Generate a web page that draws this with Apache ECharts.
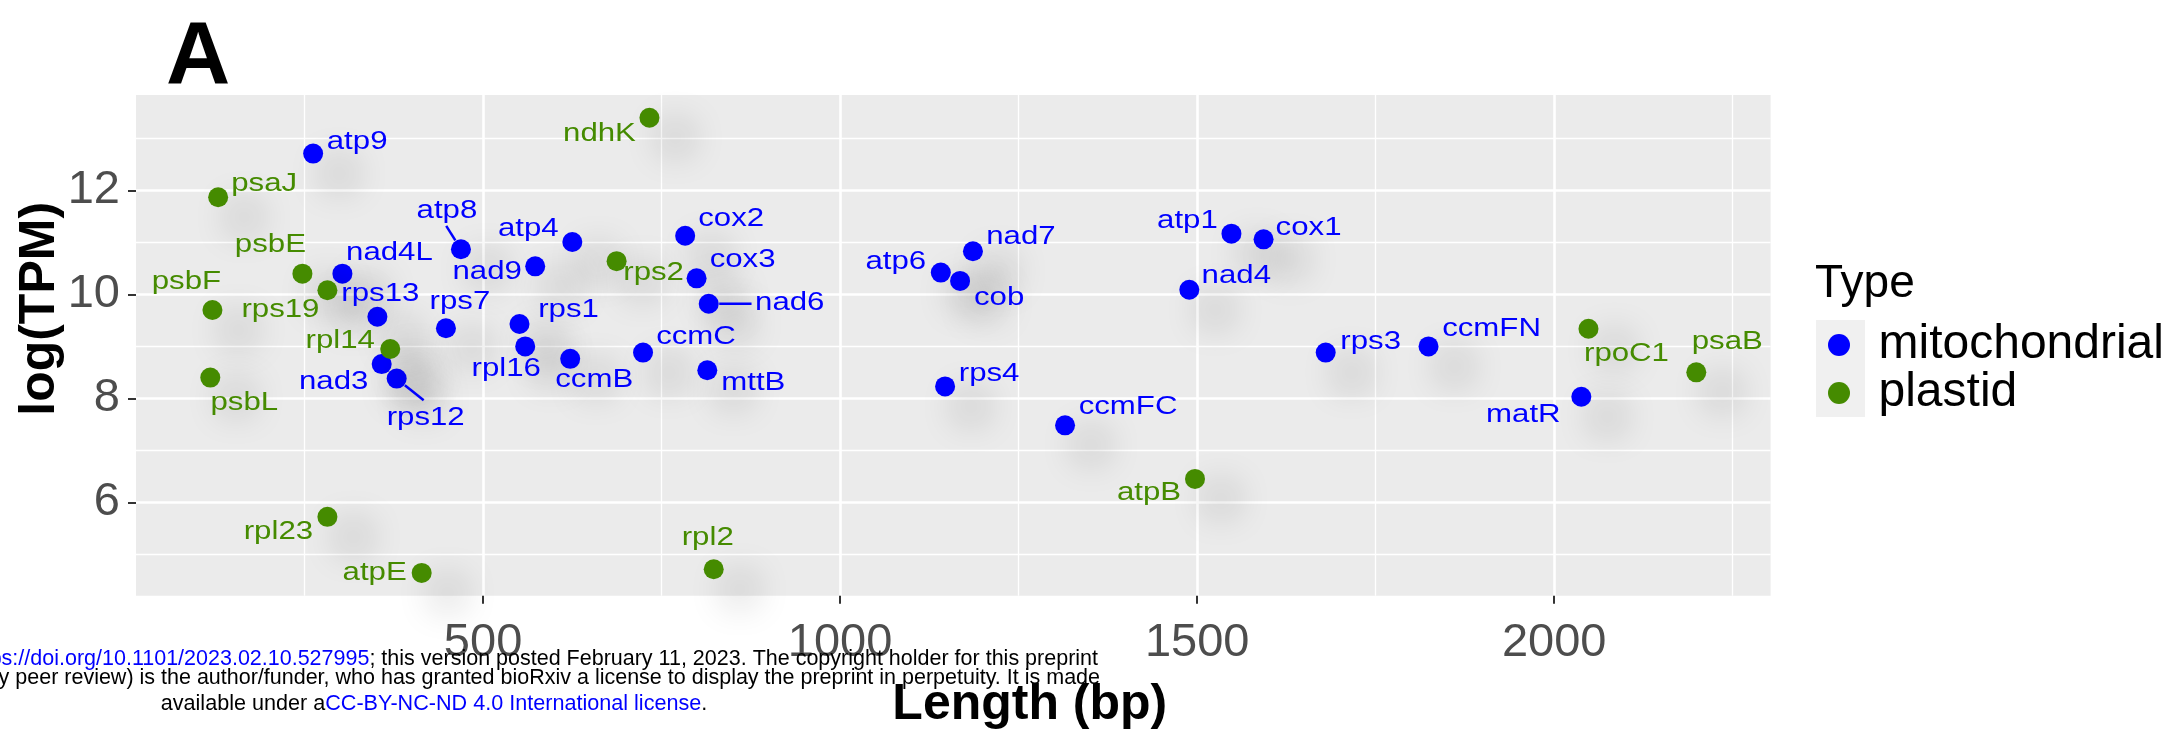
<!DOCTYPE html>
<html>
<head>
<meta charset="utf-8">
<title>Gene length vs. expression</title>
<script src="https://cdn.jsdelivr.net/npm/echarts@6/dist/echarts.min.js"></script>
<style>
  html, body { margin: 0; padding: 0; background: #ffffff; }
  #chart { width: 2184px; height: 736px; }
</style>
</head>
<body>
<div id="chart"></div>
<script>
// Mitochondrial genes: gene length (bp) and log(TPM)
const mitoGenes = ['atp9', 'atp8', 'atp4', 'nad4L', 'nad9', 'rps13', 'rps7', 'rps1', 'rpl16', 'ccmB',
  'ccmC', 'nad3', 'rps12', 'cox2', 'cox3', 'nad6', 'mttB', 'atp6', 'cob', 'nad7',
  'rps4', 'ccmFC', 'atp1', 'cox1', 'nad4', 'rps3', 'ccmFN', 'matR'];
const mitoLength = [262, 469, 625, 303, 573, 352, 448, 551, 559, 622,
  724, 358, 379, 783, 799, 816, 814, 1141, 1168, 1186,
  1147, 1315, 1548, 1593, 1489, 1680, 1824, 2038];
const mitoLogTPM = [12.71, 10.87, 11.01, 10.40, 10.54, 9.57, 9.35, 9.43, 9.00, 8.76,
  8.88, 8.66, 8.38, 11.13, 10.31, 9.82, 8.54, 10.42, 10.26, 10.83,
  8.23, 7.48, 11.17, 11.06, 10.09, 8.88, 9.00, 8.03];

// Plastid genes: gene length (bp) and log(TPM)
const plastidGenes = ['ndhK', 'psaJ', 'psbE', 'rps19', 'psbF', 'rpl14', 'psbL', 'rps2', 'rpl23', 'atpE',
  'rpl2', 'atpB', 'rpoC1', 'psaB'];
const plastidLength = [733, 129, 247, 282, 121, 370, 118, 687, 282, 414,
  823, 1497, 2048, 2199];
const plastidLogTPM = [13.40, 11.87, 10.40, 10.08, 9.70, 8.95, 8.40, 10.64, 5.72, 4.64,
  4.71, 6.45, 9.34, 8.50];

// Axis breaks
const xBreaks = [500, 1000, 1500, 2000];
const xMinorBreaks = [250, 750, 1250, 1750, 2250];
const yBreaks = [6, 8, 10, 12];
const yMinorBreaks = [5, 7, 9, 11, 13];

const typeNames = ['mitochondrial', 'plastid'];

// Colours and fonts
const BLUE = '#0000FF';
const GREEN = '#458B00';
const FONT = '"Liberation Sans", Arial, Helvetica, sans-serif';

// Repelled gene-label placement, pixel nudges from each point
const labelNudge = {
  atp9: [44, -12], atp8: [-14, -38], atp4: [-44, -13], nad4L: [47, -21], nad9: [-48, 5],
  rps13: [3, -23], rps7: [14, -26], rps1: [49, -14], rpl16: [-19, 22], ccmB: [24, 21],
  ccmC: [53, -16], nad3: [-48, 18], rps12: [29, 39], cox2: [46, -17], cox3: [46, -18],
  nad6: [81, -1], mttB: [46, 13], atp6: [-45, -11], cob: [39, 17], nad7: [48, -14],
  rps4: [44, -13], ccmFC: [63, -19], atp1: [-44, -13], cox1: [45, -12], nad4: [47, -14],
  rps3: [45, -11], ccmFN: [63, -18], matR: [-58, 18],
  ndhK: [-50, 16], psaJ: [46, -13], psbE: [-32, -29], rps19: [-47, 20], psbF: [-26, -28],
  rpl14: [-50, -8], psbL: [34, 25], rps2: [37, 12], rpl23: [-49, 15], atpE: [-47, 0],
  rpl2: [-6, -31], atpB: [-46, 14], rpoC1: [38, 25], psaB: [31, -31]
};
// Segment end (pixels from the point) for labels pushed far from their point
const leaderEnd = {
  atp8: [-14.7, -23.3],
  rps12: [27, 21.7],
  nad6: [42.8, 0]
};

// ggplot-style 5% expansion of the data range
function expandRange(values) {
  const lo = Math.min.apply(null, values);
  const hi = Math.max.apply(null, values);
  const pad = (hi - lo) * 0.05;
  return [lo - pad, hi + pad];
}
const xRange = expandRange(mitoLength.concat(plastidLength));
const yRange = expandRange(mitoLogTPM.concat(plastidLogTPM));

function toPoints(lengths, values) {
  return lengths.map(function (len, i) { return [len, values[i]]; });
}

// Gene labels are drawn by one custom series over both groups
const labelPoints = toPoints(mitoLength, mitoLogTPM).concat(toPoints(plastidLength, plastidLogTPM));
const labelNames = mitoGenes.concat(plastidGenes);
const labelColors = mitoGenes.map(function () { return BLUE; })
  .concat(plastidGenes.map(function () { return GREEN; }));

const pointShadow = {
  shadowBlur: 38,
  shadowColor: 'rgba(0, 0, 0, 0.48)',
  shadowOffsetX: 26,
  shadowOffsetY: 20
};

const chart = echarts.init(document.getElementById('chart'), null, { renderer: 'canvas' });

const majorSplit = { show: true, lineStyle: { color: '#FFFFFF', width: 2.6 } };
const minorSplit = { show: true, lineStyle: { color: '#FFFFFF', width: 1.3 } };
const tickStyle = { color: '#333333', width: 2 };
const plainNumber = function (v) { return String(v); };

chart.setOption({
  animation: false,
  backgroundColor: '#FFFFFF',
  title: [
    {
      text: 'A', left: 166, top: 15, padding: 0,
      textStyle: { fontSize: 89, fontWeight: 'bold', color: '#000000', fontFamily: FONT }
    },
    {
      text: 'Type', left: 1815, top: 261, padding: 0,
      textStyle: { fontSize: 46, fontWeight: 'normal', color: '#000000', fontFamily: FONT }
    }
  ],
  legend: {
    data: typeNames,
    orient: 'vertical',
    left: 1828,
    top: 321,
    padding: 0,
    itemGap: 0,
    itemWidth: 49,
    itemHeight: 22,
    icon: 'circle',
    selectedMode: false,
    itemStyle: { shadowBlur: 0, shadowColor: 'rgba(0,0,0,0)', shadowOffsetX: 0, shadowOffsetY: 0 },
    textStyle: {
      fontSize: 48, color: '#000000', fontFamily: FONT,
      lineHeight: 34, padding: [0, 0, 14, 10]
    }
  },
  grid: {
    left: 136, top: 95, right: 413.4, bottom: 140.3,
    show: true, backgroundColor: '#EBEBEB', borderWidth: 0,
    outerBoundsMode: 'none'
  },
  xAxis: [
    {
      type: 'value', min: xRange[0], max: xRange[1], position: 'bottom',
      name: 'Length (bp)', nameLocation: 'middle', nameGap: 85, nameMoveOverlap: false,
      nameTextStyle: { fontSize: 50, fontWeight: 'bold', color: '#000000', fontFamily: FONT, padding: [0, 0, 0, 153] },
      axisLine: { show: false },
      axisTick: { show: true, length: 8, lineStyle: tickStyle, customValues: xBreaks },
      axisLabel: {
        show: true, fontSize: 47, color: '#4D4D4D', fontFamily: FONT, margin: 24,
        customValues: xBreaks, formatter: plainNumber
      },
      splitLine: majorSplit
    },
    {
      type: 'value', min: xRange[0], max: xRange[1], position: 'top',
      axisLine: { show: false },
      axisTick: { show: false, customValues: xMinorBreaks },
      axisLabel: { show: false, customValues: xMinorBreaks },
      splitLine: minorSplit
    }
  ],
  yAxis: [
    {
      type: 'value', min: yRange[0], max: yRange[1], position: 'left',
      name: 'log(TPM)', nameLocation: 'middle', nameGap: 71, nameMoveOverlap: false,
      nameTextStyle: { fontSize: 50, fontWeight: 'bold', color: '#000000', fontFamily: FONT, padding: [0, 0, 0, 73] },
      axisLine: { show: false },
      axisTick: { show: true, length: 8, lineStyle: tickStyle, customValues: yBreaks },
      axisLabel: {
        show: true, fontSize: 47, color: '#4D4D4D', fontFamily: FONT, margin: 16,
        customValues: yBreaks, formatter: plainNumber
      },
      splitLine: majorSplit
    },
    {
      type: 'value', min: yRange[0], max: yRange[1], position: 'right',
      axisLine: { show: false },
      axisTick: { show: false, customValues: yMinorBreaks },
      axisLabel: { show: false, customValues: yMinorBreaks },
      splitLine: minorSplit
    }
  ],
  series: [
    {
      name: typeNames[0], type: 'scatter', xAxisIndex: 0, yAxisIndex: 0,
      data: toPoints(mitoLength, mitoLogTPM),
      symbol: 'circle', symbolSize: 20, z: 3,
      itemStyle: Object.assign({ color: BLUE, opacity: 1 }, pointShadow),
      emphasis: { disabled: true }
    },
    {
      name: typeNames[1], type: 'scatter', xAxisIndex: 0, yAxisIndex: 0,
      data: toPoints(plastidLength, plastidLogTPM),
      symbol: 'circle', symbolSize: 20, z: 3,
      itemStyle: Object.assign({ color: GREEN, opacity: 1 }, pointShadow),
      emphasis: { disabled: true }
    },
    {
      name: 'gene labels', type: 'custom', xAxisIndex: 0, yAxisIndex: 0,
      data: labelPoints, z: 6, silent: true, clip: false,
      encode: { x: 0, y: 1 },
      renderItem: function (params, api) {
        const p = api.coord([api.value(0), api.value(1)]);
        const name = labelNames[params.dataIndex];
        const color = labelColors[params.dataIndex];
        const nudge = labelNudge[name] || [30, 0];
        const children = [{
          type: 'text',
          x: p[0] + nudge[0],
          y: p[1] + nudge[1],
          scaleX: 1.2,
          style: {
            text: name, fill: color, font: '26px ' + FONT,
            textAlign: 'center', align: 'center',
            textVerticalAlign: 'middle', verticalAlign: 'middle'
          }
        }];
        const end = leaderEnd[name];
        if (end) {
          const len = Math.sqrt(end[0] * end[0] + end[1] * end[1]);
          const ux = end[0] / len, uy = end[1] / len;
          children.push({
            type: 'line',
            shape: { x1: p[0] + ux * 10.5, y1: p[1] + uy * 10.5, x2: p[0] + end[0], y2: p[1] + end[1] },
            style: { stroke: color, lineWidth: 2.5 }
          });
        }
        return { type: 'group', children: children };
      }
    }
  ],
  graphic: [
    {
      // legend key background
      type: 'rect', z: 0,
      shape: { x: 1816, y: 320, width: 49, height: 97 },
      style: { fill: '#F0F0F0' }
    },
    {
      type: 'text', x: 1098, y: 659, z: 10,
      style: {
        text: '{k|bioRxiv preprint doi: }{u|https://doi.org/10.1101/2023.02.10.527995}{k|; this version posted February 11, 2023. The copyright holder for this preprint}',
        rich: { k: { fill: '#000000' }, u: { fill: '#0000FF' } },
        font: '21.5px ' + FONT,
        textAlign: 'right', align: 'right', textVerticalAlign: 'middle', verticalAlign: 'middle'
      }
    },
    {
      type: 'text', x: 1100, y: 678, z: 10,
      style: {
        text: '(which was not certified by peer review) is the author/funder, who has granted bioRxiv a license to display the preprint in perpetuity. It is made',
        fill: '#000000',
        font: '21.5px ' + FONT,
        textAlign: 'right', align: 'right', textVerticalAlign: 'middle', verticalAlign: 'middle'
      }
    },
    {
      type: 'text', x: 434, y: 704, z: 10,
      style: {
        text: '{k|available under a}{u|CC-BY-NC-ND 4.0 International license}{k|.}',
        rich: { k: { fill: '#000000' }, u: { fill: '#0000FF' } },
        font: '21.6px ' + FONT,
        textAlign: 'center', align: 'center', textVerticalAlign: 'middle', verticalAlign: 'middle'
      }
    }
  ]
});
</script>
</body>
</html>
